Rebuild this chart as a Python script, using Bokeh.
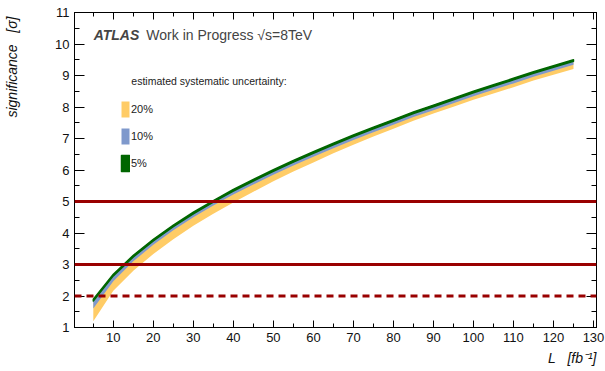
import math
from bokeh.plotting import figure
from bokeh.models import (Range1d, SingleIntervalTicker, LinearAxis, Label, Legend,
                          LegendItem, Span, ColumnDataSource, CustomJSTickFormatter, Title)
from bokeh.embed import file_html
from bokeh.resources import INLINE

# ---- data ----
lumi = [5, 10, 15, 20, 25, 30, 35, 40, 45, 50, 55, 60, 65, 70, 75, 80, 85, 90,
        95, 100, 105, 110, 115, 120, 125]
sig_hi = [1.90, 2.69, 3.29, 3.80, 4.25, 4.66, 5.03, 5.38, 5.70, 6.01, 6.30, 6.58,
          6.85, 7.11, 7.36, 7.60, 7.84, 8.06, 8.28, 8.50, 8.71, 8.91, 9.12, 9.31, 9.50]
sig5_lo = [1.84, 2.64, 3.24, 3.75, 4.20, 4.61, 4.98, 5.33, 5.65, 5.96, 6.25, 6.53,
           6.80, 7.06, 7.31, 7.55, 7.79, 8.01, 8.23, 8.45, 8.66, 8.86, 9.07, 9.26, 9.45]
sig10_lo = [1.60, 2.47, 3.10, 3.63, 4.09, 4.50, 4.87, 5.22, 5.54, 5.85, 6.14, 6.42,
            6.69, 6.95, 7.20, 7.44, 7.68, 7.90, 8.12, 8.34, 8.55, 8.75, 8.96, 9.15, 9.34]
sig20_lo = [1.20, 2.17, 2.80, 3.33, 3.80, 4.23, 4.61, 4.97, 5.31, 5.64, 5.95, 6.24,
            6.53, 6.80, 7.06, 7.31, 7.56, 7.79, 8.01, 8.23, 8.43, 8.63, 8.84, 9.02, 9.21]
band_labels = ["20%", "10%", "5%"]
ref_solid = [5, 3]
ref_dashed = [2]
x_title = "L\u00a0\u00a0\u00a0[fb\u207b\u00b9]"
y_title = "significance\u00a0\u00a0\u00a0[\u03c3]"

YELLOW = "#ffcc66"
BLUE = "#7f99cc"
GREEN = "#006600"
RED = "#990000"
FONT = "Liberation Sans"

p = figure(width=605, height=371, x_range=Range1d(0.3, 130.75), y_range=Range1d(1, 11),
           output_backend="svg", toolbar_location=None,
           min_border_left=74, min_border_right=9, min_border_top=12, min_border_bottom=44)
p.grid.visible = False
p.outline_line_color = "black"
p.background_fill_color = "white"
p.border_fill_color = "white"

xa = p.xaxis[0]
ya = p.yaxis[0]
blank = CustomJSTickFormatter(code="return ''")

def style(ax, major, minor, labels=True):
    ax.major_tick_in = major
    ax.major_tick_out = 0
    ax.minor_tick_in = minor
    ax.minor_tick_out = 0
    ax.axis_line_color = "black"
    ax.major_tick_line_color = "black"
    ax.minor_tick_line_color = "black"
    if labels:
        ax.major_label_text_font = FONT
        ax.major_label_text_font_size = "13px"
        ax.major_label_text_color = "#111111"
        ax.major_label_standoff = 5
    else:
        ax.formatter = blank
        ax.major_label_standoff = 0

xa.ticker = SingleIntervalTicker(interval=10, num_minor_ticks=2)
ya.ticker = SingleIntervalTicker(interval=1, num_minor_ticks=2)
style(xa, 7, 4)
style(ya, 10, 5)

top = LinearAxis(ticker=SingleIntervalTicker(interval=10, num_minor_ticks=2))
style(top, 7, 4, labels=False)
p.add_layout(top, "above")
right = LinearAxis(ticker=SingleIntervalTicker(interval=1, num_minor_ticks=2))
style(right, 10, 5, labels=False)
p.add_layout(right, "right")

src = ColumnDataSource(dict(x=lumi, hi=sig_hi, lo5=sig5_lo, lo10=sig10_lo, lo20=sig20_lo))
r20 = p.varea(x="x", y1="lo20", y2="hi", source=src, fill_color=YELLOW)
r10 = p.varea(x="x", y1="lo10", y2="hi", source=src, fill_color=BLUE)
r5 = p.patch(x=lumi + lumi[::-1], y=sig_hi + sig5_lo[::-1], fill_color=GREEN,
             line_color=GREEN, line_width=1.5, line_join="round")

for v in ref_solid:
    p.add_layout(Span(location=v, dimension="width", line_color=RED, line_width=3))
for v in ref_dashed:
    p.add_layout(Span(location=v, dimension="width", line_color=RED, line_width=3,
                      line_dash="7 5"))

legend = Legend(items=[LegendItem(label=band_labels[0], renderers=[r20]),
                       LegendItem(label=band_labels[1], renderers=[r10]),
                       LegendItem(label=band_labels[2], renderers=[r5])],
                location=(46, 154), glyph_width=10, glyph_height=20, spacing=7,
                label_standoff=1, padding=0, margin=0, border_line_color=None,
                background_fill_alpha=0, label_text_font=FONT,
                label_text_font_size="11px", label_text_color="#222222")
p.add_layout(legend, "center")

p.add_layout(Label(x=14.5, y=8.63, text="estimated systematic uncertainty:",
                   text_font=FONT, text_font_size="10.5px", text_color="#222222"))
p.add_layout(Label(x=5.08, y=10.03, text="ATLAS", text_font=FONT,
                   text_font_size="14px", text_font_style="bold italic"))
p.add_layout(Label(x=18.25, y=10.03, text="Work in Progress \u221as=8TeV", text_font=FONT,
                   text_font_size="14px"))

p.add_layout(Title(text=x_title, align="right", text_font=FONT, text_font_size="14px",
                   text_font_style="italic", text_color="#111111", standoff=6), "below")
p.add_layout(Label(x=-25, y=311, x_units="screen", y_units="screen", text=y_title,
                   angle=math.pi / 2, text_align="right", text_baseline="alphabetic",
                   text_font=FONT, text_font_size="14px", text_font_style="italic",
                   text_color="#111111"), "left")

open("out.html", "w").write(file_html(p, INLINE))
